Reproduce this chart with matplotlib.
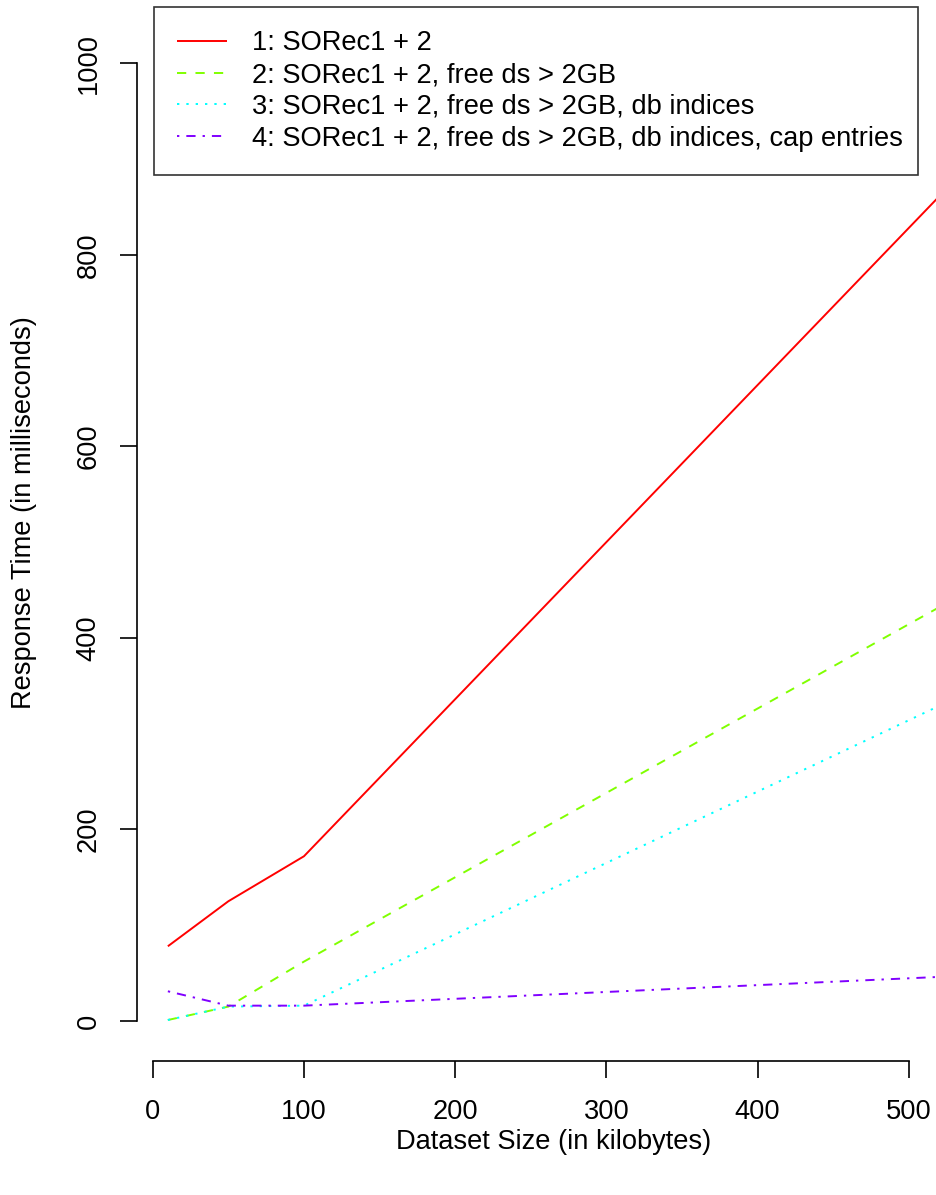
import matplotlib.pyplot as plt

# dataset sizes (kB) and response times (ms) per configuration
sizes = [10, 50, 100, 520]
rt_1 = [78, 125, 172, 861]
rt_2 = [1, 15, 62, 432]
rt_3 = [1, 15, 16, 329]
rt_4 = [31, 16, 16, 46]

labels = ["1: SORec1 + 2",
          "2: SORec1 + 2, free ds > 2GB",
          "3: SORec1 + 2, free ds > 2GB, db indices",
          "4: SORec1 + 2, free ds > 2GB, db indices, cap entries"]
colors = ["#FF0000", "#80FF00", "#00FFFF", "#8000FF"]
styles = ["-", (0, (4.75, 4.75)), (0, (1.2, 3.6)), (0, (1.2, 3.6, 4.75, 3.6))]

plt.rcParams['font.family'] = ['Liberation Sans', 'DejaVu Sans']
fs = 19.6

W, H = 936, 1195
fig = plt.figure(figsize=(W / 100, H / 100), dpi=100)
# plot region in pixels: x 137..970, y -20..1061 (cropped like the original)
ax = fig.add_axes([137 / W, 1 - 1061 / H, (970 - 137) / W, (1061 + 20) / H])

for y, c, ls, lab in zip([rt_1, rt_2, rt_3, rt_4], colors, styles, labels):
    ax.plot(sizes, y, color=c, linestyle=ls, lw=1.4, label=lab,
            dash_capstyle='butt', solid_capstyle='butt')

ax.set_xlim(-10.4, 540.4)
ax.set_ylim(-41.8, 1087)
ax.set_xticks([0, 100, 200, 300, 400, 500])
ax.set_yticks([0, 200, 400, 600, 800, 1000])

for s in ['top', 'right']:
    ax.spines[s].set_visible(False)
ax.spines['left'].set_bounds(0, 1000)
ax.spines['bottom'].set_bounds(0, 500)
for s in ['left', 'bottom']:
    ax.spines[s].set_linewidth(1.2)

ax.tick_params(axis='both', length=12, width=1.2, labelsize=fs)
ax.tick_params(axis='x', pad=15.5)
ax.tick_params(axis='y', pad=13.5)
for t in ax.get_yticklabels():
    t.set_rotation(90)
    t.set_va('center')

ax.set_xlabel('Dataset Size (in kilobytes)', fontsize=fs)
ax.set_ylabel('Response Time (in milliseconds)', fontsize=fs)
ax.xaxis.set_label_coords(0.5, -0.0625)
ax.yaxis.set_label_coords(-0.12, 0.507)

leg = fig.legend(loc='upper left',
                 bbox_to_anchor=(154 / W, 1 - 171 / H, (918 - 154) / W, 164 / H),
                 mode='expand', borderaxespad=0, fontsize=fs,
                 handlelength=1.83, handletextpad=0.92, borderpad=0.86,
                 labelspacing=0.21, fancybox=False, frameon=True)
leg.get_frame().set_edgecolor('black')
leg.get_frame().set_linewidth(1.2)

fig.savefig('out.png', dpi=100)
